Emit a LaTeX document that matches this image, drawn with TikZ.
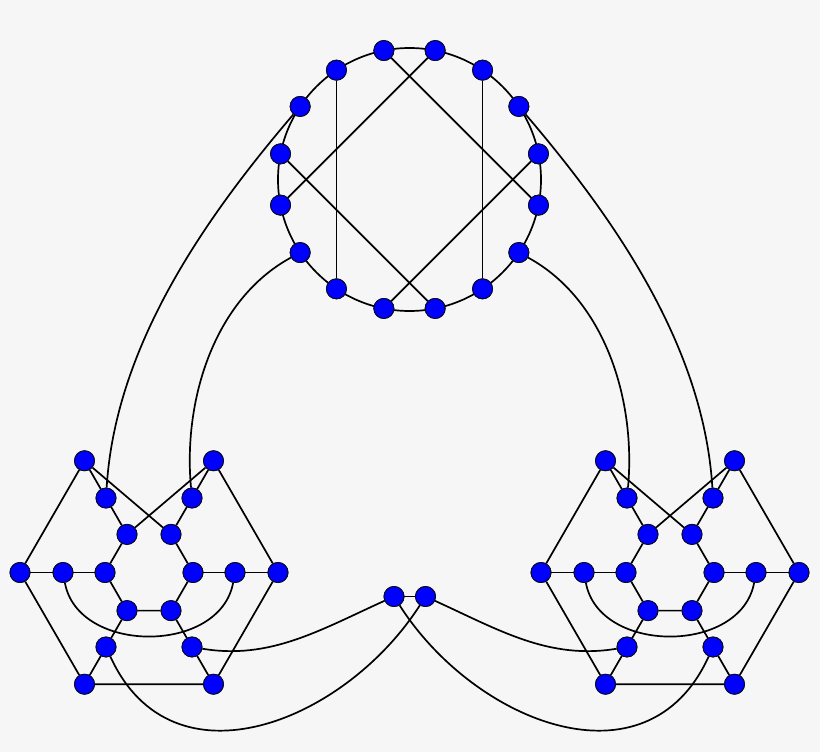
\documentclass[tikz,border=0pt]{standalone}
\definecolor{bgc}{RGB}{246,246,246}
\definecolor{vfill}{RGB}{0,0,255}
\definecolor{vline}{RGB}{10,10,40}
\begin{document}
\begin{tikzpicture}[x=1pt,y=-1pt,
  v/.style={circle,fill=vfill,draw=vline,line width=0.9pt,minimum size=20pt,inner sep=0pt},
  edge/.style={line width=1.7pt,black}]
\fill[bgc] (0,0) rectangle (820,752);
\useasboundingbox (0,0) rectangle (820,752);
% top ring
\draw[edge] (409.5,179.5) circle[radius=131.5];
\foreach \i in {0,...,15}
  \node[v] (T\i) at ([shift={({-11.25-22.5*\i}:131.5)}]409.5,179.5) {};
% clusters
\foreach \c/\cx in {L/149,R/670}{
  \foreach \a in {0,60,...,300}{
    \node[v] (\c o\a) at ([shift={({-\a}:129)}]\cx,572.5) {};
    \node[v] (\c m\a) at ([shift={({-\a}:86)}]\cx,572.5) {};
    \node[v] (\c i\a) at ([shift={({-\a}:44)}]\cx,572.5) {};
  }
}
\node[v] (M1) at (394,596.5) {};
\node[v] (M2) at (425.5,596.5) {};
% edges
\draw[edge] (T5) -- (T10);
\draw[edge] (T2) -- (T13);
\draw[edge] (T4) -- (T15);
\draw[edge] (T3) -- (T8);
\draw[edge] (T7) -- (T12);
\draw[edge] (T0) -- (T11);
\foreach \c in {L,R}{
  \draw[edge] (\c o120) -- (\c o180) -- (\c o240) -- (\c o300) -- (\c o0) -- (\c o60);
  \draw[edge] (\c i120) -- (\c i180) -- (\c i240) -- (\c i300) -- (\c i0) -- (\c i60);
  \foreach \a in {0,60,...,300}{
    \draw[edge] (\c o\a) -- (\c m\a) -- (\c i\a);
  }
  \draw[edge] (\c o120) -- (\c i60);
  \draw[edge] (\c o60) -- (\c i120);
  \draw[edge] (\c m180) .. controls +(15,82) and +(-15,82) .. (\c m0);
}
\draw[edge] (M1) -- (M2);
\draw[edge] (Lm300) .. controls (270,660) and (320,630) .. (M1);
\draw[edge] (Lm240) .. controls (172,792) and (345,722) .. (M2);
\draw[edge] (Rm240) .. controls (549,660) and (499,630) .. (M2);
\draw[edge] (Rm300) .. controls (647,792) and (474,722) .. (M1);
\draw[edge] (Lm120) .. controls (115.3,346.3) and (204.3,218.7) .. (T6);
\draw[edge] (Lm60) .. controls (183,402) and (213,300) .. (T9);
\draw[edge] (Rm60) .. controls (703.7,346.3) and (614.7,218.7) .. (T1);
\draw[edge] (Rm120) .. controls (636,402) and (606,300) .. (T14);
% nodes on top
\foreach \i in {0,...,15}
  \node[v] at (T\i) {};
\foreach \c in {L,R}{
  \foreach \a in {0,60,...,300}{
    \node[v] at (\c o\a) {};
    \node[v] at (\c m\a) {};
    \node[v] at (\c i\a) {};
  }
}
\node[v] at (M1) {};
\node[v] at (M2) {};
\end{tikzpicture}
\end{document}
